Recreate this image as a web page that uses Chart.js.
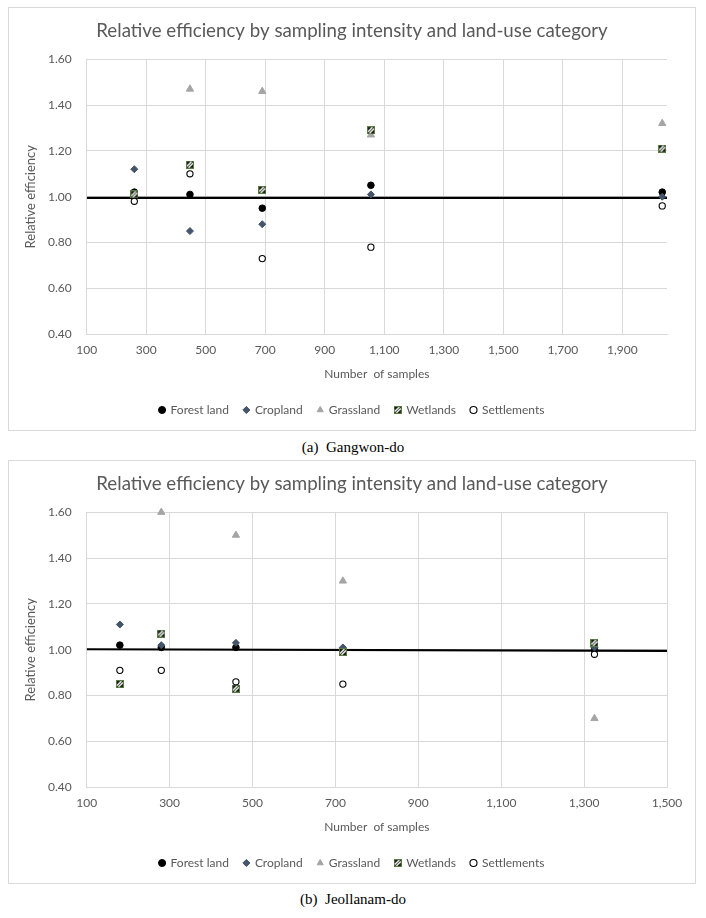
<!DOCTYPE html>
<html>
<head>
<meta charset="utf-8">
<script src="https://cdn.jsdelivr.net/npm/chart.js@4"></script>
<style>
  body { margin: 0; background: #fff; width: 706px; height: 918px; position: relative; overflow: hidden; }
  .box { position: absolute; left: 8px; width: 688px; height: 424px; box-sizing: border-box; border: 1px solid #d9d9d9; }
  .box canvas { display: block; }
  .cap { position: absolute; left: 0; width: 706px; text-align: center; font: 15px "Liberation Serif", "Times New Roman", serif; color: #000; line-height: 18px; white-space: pre; }
</style>
</head>
<body>
<div class="box" style="top:7px"><canvas id="chartA" width="686" height="422"></canvas></div>
<div class="cap" style="top:438px">(a)  Gangwon-do</div>
<div class="box" style="top:460px"><canvas id="chartB" width="686" height="422"></canvas></div>
<div class="cap" style="top:890px">(b)  Jeollanam-do</div>
<script>
// ---- data ----
const seriesNames = ["Forest land", "Cropland", "Grassland", "Wetlands", "Settlements"];
const yTicks = [0.4, 0.6, 0.8, 1.0, 1.2, 1.4, 1.6];

// (a) Gangwon-do
const samplesA = [260, 447, 690, 1055, 2034];
const forestA = [1.02, 1.01, 0.95, 1.05, 1.02];
const cropA = [1.12, 0.85, 0.88, 1.01, 1.00];
const grassA = [null, 1.47, 1.46, 1.27, 1.32];
const wetA = [1.01, 1.14, 1.03, 1.29, 1.21];
const settleA = [0.98, 1.10, 0.73, 0.78, 0.96];
const xTicksA = [100, 300, 500, 700, 900, 1100, 1300, 1500, 1700, 1900];
const xRangeA = [100, 2050];
const refLineA = [0.995, 0.995];

// (b) Jeollanam-do
const samplesB = [180, 280, 460, 718, 1325];
const forestB = [1.02, 1.01, 1.01, 1.00, 1.00];
const cropB = [1.11, 1.02, 1.03, 1.01, 1.01];
const grassB = [null, 1.60, 1.50, 1.30, 0.70];
const wetB = [0.85, 1.07, 0.83, 0.99, 1.03];
const settleB = [0.91, 0.91, 0.86, 0.85, 0.98];
const xTicksB = [100, 300, 500, 700, 900, 1100, 1300, 1500];
const xRangeB = [100, 1500];
const refLineB = [1.002, 0.995];

const TITLE = "Relative efficiency by sampling intensity and land-use category";
const textColor = "#595959";
const gridColor = "#d9d9d9";

Chart.defaults.font.family = "Lato, Carlito, Calibri, sans-serif";

// hatched square used for Wetlands
function hatchBox(size) {
  const c = document.createElement("canvas");
  c.width = c.height = size;
  const g = c.getContext("2d");
  g.fillStyle = "#151c10";
  g.fillRect(0, 0, size, size);
  g.strokeStyle = "#ffffff";
  g.lineWidth = 1.3;
  g.beginPath();
  g.moveTo(1, size - 2.5); g.lineTo(size - 2.5, 1);
  g.moveTo(2.5, size - 1); g.lineTo(size - 1, 2.5);
  g.stroke();
  g.strokeStyle = "#5a7a44";
  g.lineWidth = 1;
  g.strokeRect(0.5, 0.5, size - 1, size - 1);
  return c;
}
const wetImg = hatchBox(8);

function pts(xs, ys) {
  return xs.map((x, i) => ({ x: x, y: ys[i] })).filter(p => p.y !== null);
}

function buildChart(canvasId, xs, values, xTicks, xRange, refLine) {
  const styles = [
    { pointStyle: "circle", pointRadius: 3.3, pointBackgroundColor: "#000", pointBorderColor: "#000", pointBorderWidth: 1 },
    { pointStyle: "rectRot", pointRadius: 3.5, pointBackgroundColor: "#44546a", pointBorderColor: "#44546a", pointBorderWidth: 1 },
    { pointStyle: "triangle", pointRadius: 4.2, pointBackgroundColor: "#a5a5a5", pointBorderColor: "#a5a5a5", pointBorderWidth: 1 },
    { pointStyle: wetImg, pointRadius: 4, pointBackgroundColor: "#151c10", pointBorderColor: "#5a7a44", pointBorderWidth: 1 },
    { pointStyle: "circle", pointRadius: 3.1, pointBackgroundColor: "#fff", pointBorderColor: "#000", pointBorderWidth: 1.1 },
  ];
  // later series drawn on top, like the original
  const datasets = seriesNames.map((name, i) => Object.assign({
    label: name,
    data: pts(xs, values[i]),
    order: seriesNames.length - i,
    clip: false,
  }, styles[i]));
  datasets.push({
    label: "ref",
    data: pts(xRange, refLine),
    showLine: true,
    borderColor: "#000",
    borderWidth: 2.2,
    pointRadius: 0,
    order: 20,
  });

  return new Chart(document.getElementById(canvasId), {
    type: "scatter",
    data: { datasets: datasets },
    options: {
      responsive: false,
      animation: false,
      layout: { padding: { top: 6, right: 28, bottom: 4, left: 28 } },
      plugins: {
        tooltip: { enabled: false },
        title: {
          display: true,
          text: TITLE,
          color: textColor,
          font: { size: 18.7, weight: "normal" },
          padding: { top: 6, bottom: 16.8 },
        },
        legend: {
          position: "bottom",
          labels: {
            usePointStyle: true,
            boxWidth: 5,
            boxHeight: 5,
            padding: 15,
            color: textColor,
            font: { size: 12 },
            filter: (item) => item.text !== "ref",
            sort: (a, b) => a.datasetIndex - b.datasetIndex,
          },
        },
      },
      scales: {
        x: {
          type: "linear",
          min: xRange[0],
          max: xRange[1],
          afterBuildTicks: (axis) => { axis.ticks = xTicks.map(v => ({ value: v })); },
          grid: { color: gridColor, drawTicks: false },
          border: { color: gridColor },
          ticks: {
            color: textColor,
            font: { size: 12 },
            padding: 9,
            maxRotation: 0,
            autoSkip: false,
            callback: (v) => v.toLocaleString("en-US"),
          },
          title: {
            display: true,
            text: "Number  of samples",
            color: textColor,
            font: { size: 12 },
            padding: { top: 0, bottom: 8 },
          },
        },
        y: {
          min: 0.4,
          max: 1.6,
          afterBuildTicks: (axis) => { axis.ticks = yTicks.map(v => ({ value: v })); },
          afterFit: (axis) => { axis.width = 49.7; },
          grid: { color: gridColor, drawTicks: false },
          border: { color: gridColor },
          ticks: {
            color: textColor,
            font: { size: 12 },
            padding: 15,
            callback: (v) => v.toFixed(2),
          },
          title: {
            display: true,
            text: "Relative efficiency",
            color: textColor,
            font: { size: 13 },
            padding: { top: -14, bottom: 9 },
          },
        },
      },
    },
  });
}

buildChart("chartA", samplesA, [forestA, cropA, grassA, wetA, settleA], xTicksA, xRangeA, refLineA);
buildChart("chartB", samplesB, [forestB, cropB, grassB, wetB, settleB], xTicksB, xRangeB, refLineB);
</script>
</body>
</html>
